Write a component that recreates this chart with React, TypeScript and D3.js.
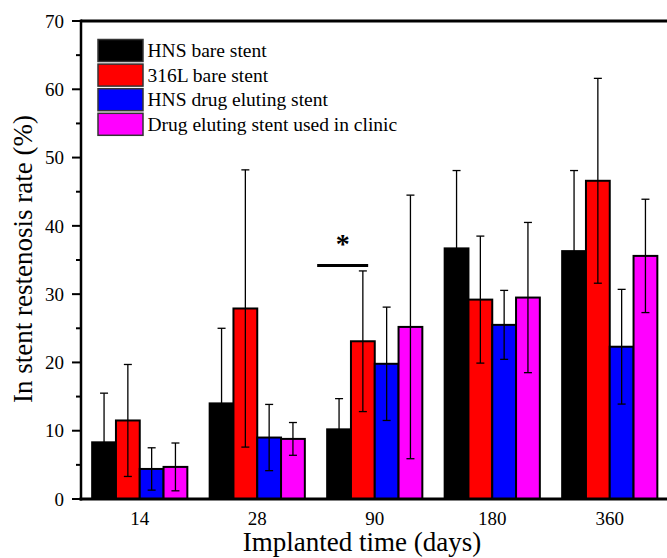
import React from 'react';
import * as d3 from 'd3';

const categories = ['14', '28', '90', '180', '360'];
const seriesNames = [
  'HNS bare stent',
  '316L bare stent',
  'HNS drug eluting stent',
  'Drug eluting stent used in clinic',
];
const seriesColors = ['#000000', '#ff0000', '#0000ff', '#ff00ff'];

// mean values per series, one per category
const hnsBare = [8.3, 14.0, 10.2, 36.7, 36.3];
const l316Bare = [11.5, 27.9, 23.1, 29.2, 46.6];
const hnsDrug = [4.4, 9.0, 19.8, 25.5, 22.3];
const clinicDrug = [4.7, 8.8, 25.2, 29.5, 35.6];

// standard deviations
const hnsBareErr = [7.2, 11.0, 4.5, 11.4, 11.8];
const l316BareErr = [8.2, 20.3, 10.3, 9.3, 15.0];
const hnsDrugErr = [3.1, 4.85, 8.3, 5.05, 8.4];
const clinicDrugErr = [3.5, 2.4, 19.3, 11.0, 8.3];

const yTicks = [0, 10, 20, 30, 40, 50, 60, 70];
const yMinorTicks = [5, 15, 25, 35, 45, 55, 65];

const values = [hnsBare, l316Bare, hnsDrug, clinicDrug];
const errors = [hnsBareErr, l316BareErr, hnsDrugErr, clinicDrugErr];

const W = 667;
const H = 558;
const left = 81;
const top = 21;
const bottom = 499;
const right = 668.5;

const FONT = '"Liberation Serif", "Times New Roman", serif';

export default function App() {
  const x = d3.scaleBand<string>()
    .domain(categories)
    .range([left, right])
    .paddingInner(0.19)
    .paddingOuter(0.095);

  const inner = d3.scaleBand<number>()
    .domain(d3.range(seriesNames.length))
    .range([0, x.bandwidth()]);

  const y = d3.scaleLinear().domain([0, 70]).range([bottom, top]);

  // significance bar over the 90-day group
  const sigX0 = (x('90') as number) - 10;
  const sigX1 = (x('90') as number) + 41;
  const sigY = y(34.2);

  return (
    <svg
      width={W}
      height={H}
      style={{ position: 'absolute', left: 0, top: 0, background: '#fff' }}
      fontFamily={FONT}
    >
      {/* bars */}
      {values.map((vals, s) =>
        vals.map((v, i) => (
          <rect
            key={`b${s}-${i}`}
            x={(x(categories[i]) as number) + (inner(s) as number)}
            y={y(v)}
            width={inner.bandwidth()}
            height={bottom - y(v)}
            fill={seriesColors[s]}
            stroke="#000"
            strokeWidth={2}
          />
        ))
      )}

      {/* error bars */}
      {values.map((vals, s) =>
        vals.map((v, i) => {
          const cx = (x(categories[i]) as number) + (inner(s) as number) + inner.bandwidth() / 2;
          const hi = y(v + errors[s][i]);
          const lo = y(Math.max(0, v - errors[s][i]));
          return (
            <g key={`e${s}-${i}`} stroke="#000" strokeWidth={1.3}>
              <line x1={cx} x2={cx} y1={hi} y2={lo} />
              <line x1={cx - 4} x2={cx + 4} y1={hi} y2={hi} />
              <line x1={cx - 4} x2={cx + 4} y1={lo} y2={lo} />
            </g>
          );
        })
      )}

      {/* frame */}
      <line x1={left} x2={W} y1={top} y2={top} stroke="#000" strokeWidth={3} />
      <line x1={left - 1.5} x2={W} y1={bottom} y2={bottom} stroke="#000" strokeWidth={3} />
      <line x1={left} x2={left} y1={top - 1.5} y2={bottom + 1.5} stroke="#000" strokeWidth={2.5} />

      {/* y ticks */}
      {yTicks.map((t) => (
        <g key={`yt${t}`}>
          <line x1={left - 9} x2={left} y1={y(t)} y2={y(t)} stroke="#000" strokeWidth={2} />
          <text x={left - 17} y={y(t)} dy="0.35em" textAnchor="end" fontSize={19}>
            {t}
          </text>
        </g>
      ))}
      {yMinorTicks.map((t) => (
        <line key={`ym${t}`} x1={left - 5} x2={left} y1={y(t)} y2={y(t)} stroke="#000" strokeWidth={2} />
      ))}

      {/* x labels */}
      {categories.map((c) => (
        <text
          key={`xl${c}`}
          x={(x(c) as number) + x.bandwidth() / 2}
          y={525}
          textAnchor="middle"
          fontSize={19}
        >
          {c}
        </text>
      ))}

      {/* axis titles */}
      <text x={362} y={551} textAnchor="middle" fontSize={27}>
        Implanted time (days)
      </text>
      <text
        transform={`translate(32, ${(top + bottom) / 2 - 1}) rotate(-90)`}
        textAnchor="middle"
        fontSize={27}
      >
        In stent restenosis rate (%)
      </text>

      {/* significance */}
      <line x1={sigX0} x2={sigX1} y1={sigY} y2={sigY} stroke="#000" strokeWidth={3} />
      <text x={(sigX0 + sigX1) / 2} y={253} textAnchor="middle" fontSize={28} fontWeight="bold">
        *
      </text>

      {/* legend */}
      {seriesNames.map((name, s) => (
        <g key={`lg${s}`} transform={`translate(98, ${39.5 + s * 24.6})`}>
          <rect x={0} y={0} width={45} height={22} fill={seriesColors[s]} stroke="#333" strokeWidth={1.5} />
          <text x={49.5} y={17.5} fontSize={19.5}>
            {name}
          </text>
        </g>
      ))}
    </svg>
  );
}
